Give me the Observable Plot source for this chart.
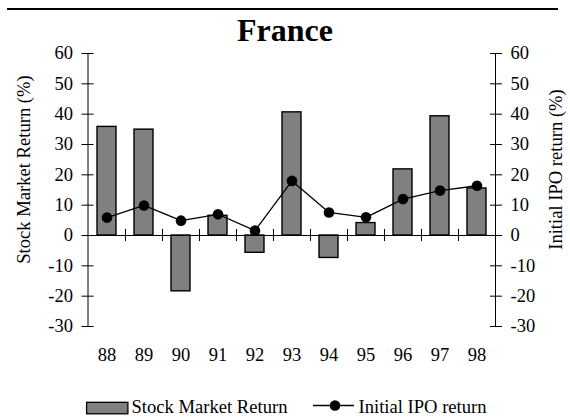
<!DOCTYPE html>
<html>
<head>
<meta charset="utf-8">
<script src="https://cdn.jsdelivr.net/npm/d3@7"></script>
<script src="https://cdn.jsdelivr.net/npm/@observablehq/plot@0.6"></script>
<style>
  html, body { margin: 0; padding: 0; background: #fff; }
  #wrap { position: relative; width: 570px; height: 417px; font-family: "Liberation Serif", "Times New Roman", serif; color: #000; overflow: hidden; }
  #rule { position: absolute; left: 7px; top: 8px; width: 551px; height: 2px; background: #000; }
  #title { position: absolute; left: 0; top: 14px; width: 570px; text-align: center; font-size: 32px; line-height: 32px; font-weight: bold; }
  #chart { position: absolute; left: 0; top: 45px; }
  #chart svg, #chart svg text, #chart svg g { font-family: "Liberation Serif", "Times New Roman", serif !important; font-variant: normal !important; }
  #overlay { position: absolute; left: 0; top: 0; pointer-events: none; }
  #overlay text { font-family: "Liberation Serif", "Times New Roman", serif; font-size: 18.6px; fill: #000; }
</style>
</head>
<body>
<div id="wrap">
  <div id="rule"></div>
  <div id="title"></div>
  <div id="chart"></div>
  <svg id="overlay" width="570" height="417"></svg>
</div>
<script>
const chartTitle = "France";
const years = ["88", "89", "90", "91", "92", "93", "94", "95", "96", "97", "98"];
const stockReturn = [35.8, 34.9, -18.4, 6.5, -5.7, 40.6, -7.4, 4.1, 21.8, 39.3, 15.5];
const ipoReturn = [5.9, 9.9, 4.9, 7.0, 1.6, 18.0, 7.6, 6.0, 12.0, 14.8, 16.4];
const yTicks = [-30, -20, -10, 0, 10, 20, 30, 40, 50, 60];
const seriesNames = ["Stock Market Return", "Initial IPO return"];
const axisLabels = ["Stock Market Return (%)", "Initial IPO return (%)"];

const data = years.map((year, i) => ({year, stock: stockReturn[i], ipo: ipoReturn[i]}));

document.getElementById("title").textContent = chartTitle;

const W = 570, H = 335;
const mL = 87.5, mR = 75, mT = 8, mB = 54;
const step = (W - mL - mR) / years.length;
const serif = "Liberation Serif";
const fs = 18.5;
const fmt = d => String(d); // plain hyphen-minus as in the reference

const plot = Plot.plot({
  width: W,
  height: H,
  marginLeft: mL,
  marginRight: mR,
  marginTop: mT,
  marginBottom: mB,
  style: {fontFamily: serif, fontSize: fs + "px", background: "white", color: "black", overflow: "visible"},
  x: {type: "band", domain: years, paddingInner: 0.48, paddingOuter: 0.24},
  y: {domain: [-30, 60]},
  marks: [
    Plot.barY(data, {x: "year", y: "stock", fill: "#808080", stroke: "black", strokeWidth: 1.4}),
    Plot.ruleY([0], {stroke: "black", strokeWidth: 1.2}),
    Plot.ruleX(years.slice(1), {x: d => d, y1: -2, y2: 2, dx: -step / 2, stroke: "black", strokeWidth: 1}),
    Plot.frame({anchor: "left", stroke: "black", strokeWidth: 1}),
    Plot.frame({anchor: "right", stroke: "black", strokeWidth: 1}),
    Plot.axisY(yTicks, {anchor: "left", tickSize: 12, dx: 6, tickFormat: () => "", label: null, stroke: "black"}),
    Plot.axisY(yTicks, {anchor: "left", tickSize: 0, tickPadding: 15, label: null, fill: "black", tickFormat: fmt, fontFamily: serif, fontSize: fs, fontVariant: "normal"}),
    Plot.axisY(yTicks, {anchor: "right", tickSize: 12, dx: -6, tickFormat: () => "", label: null, stroke: "black"}),
    Plot.axisY(yTicks, {anchor: "right", tickSize: 0, tickPadding: 15, label: null, fill: "black", tickFormat: fmt, fontFamily: serif, fontSize: fs, fontVariant: "normal"}),
    Plot.axisX(years, {anchor: "bottom", tickSize: 0, tickPadding: 21.5, label: null, fill: "black", fontFamily: serif, fontSize: fs, fontVariant: "normal"}),
    Plot.line(data, {x: "year", y: "ipo", stroke: "black", strokeWidth: 1.3}),
    Plot.dot(data, {x: "year", y: "ipo", r: 5.3, fill: "black"})
  ]
});
document.getElementById("chart").appendChild(plot);

// Overlay: axis titles and legend
const ov = d3.select("#overlay");
ov.append("text").attr("text-anchor", "middle")
  .attr("transform", "translate(30,169.5) rotate(-90)").text(axisLabels[0]);
ov.append("text").attr("text-anchor", "middle")
  .attr("transform", "translate(561.5,169.5) rotate(-90)").text(axisLabels[1]);

ov.append("rect").attr("x", 86.6).attr("y", 402.3).attr("width", 41.3).attr("height", 11.5)
  .attr("fill", "#808080").attr("stroke", "black").attr("stroke-width", 1.3);
ov.append("text").attr("x", 131.5).attr("y", 412.7).text(seriesNames[0]);
ov.append("line").attr("x1", 313).attr("x2", 354).attr("y1", 405.5).attr("y2", 405.5)
  .attr("stroke", "black").attr("stroke-width", 1.3);
ov.append("circle").attr("cx", 335).attr("cy", 405.5).attr("r", 5.3).attr("fill", "black");
ov.append("text").attr("x", 358.5).attr("y", 412.7).text(seriesNames[1]);
</script>
</body>
</html>
